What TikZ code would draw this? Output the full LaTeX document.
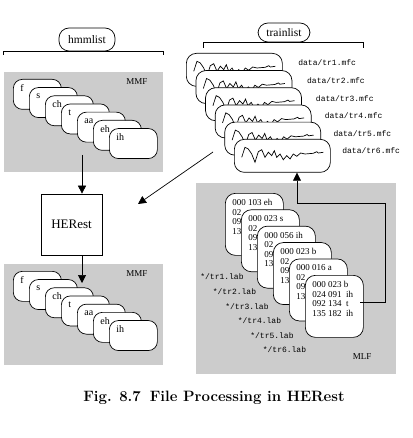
\documentclass[tikz,border=0pt]{standalone}
\usepackage{fontspec}
\newfontfamily\timesfont{Liberation Serif}
\newfontfamily\courfont{Liberation Mono}
\usetikzlibrary{arrows.meta, positioning}
\definecolor{panelgray}{gray}{0.8}
\tikzstyle{panel} = [rectangle, fill=panelgray, anchor=north west, inner sep=0pt]
\tikzstyle{panelname} = [font=\timesfont\fontsize{9}{10}\selectfont]
\tikzstyle{listbox} = [rectangle, draw, fill=white, rounded corners=10pt, inner sep=0pt, font=\timesfont\fontsize{11.5}{13}\selectfont]
\tikzstyle{hmmbox} = [rectangle, draw, fill=white, rounded corners=9pt, anchor=north west, minimum width=48pt, minimum height=30pt]
\tikzstyle{hmmname} = [anchor=west, inner sep=0pt, font=\timesfont\fontsize{10}{11}\selectfont]
\tikzstyle{wavebox} = [rectangle, draw, fill=white, rounded corners=10pt, anchor=north west, minimum width=96pt, minimum height=33pt]
\tikzstyle{labbox} = [rectangle, draw, fill=white, rounded corners=10pt, anchor=north west, minimum width=58pt, minimum height=62pt]
\tikzstyle{labtext} = [anchor=north west, inner sep=0pt, align=left, font=\timesfont\fontsize{9}{9.5}\selectfont]
\tikzstyle{filename} = [anchor=west, inner sep=0pt, font=\courfont\fontsize{8}{9}\selectfont]
\tikzstyle{arrow} = [-{Triangle[length=8pt, width=8pt]}]
\tikzset{wave/.pic={
  \draw (7.7,18.3) -- (11,8.3) -- (14.3,10) -- (17.7,15) -- (21,23.3) -- (24.3,12.7) -- (27.7,10.7)
    -- (31,18.3) -- (34.3,13.3) -- (37.7,16.7) -- (40.3,11.7) -- (42.7,18.3) -- (46,15) -- (49.3,20.7)
    -- (52.7,16.7) -- (56,20) -- (59.3,15) -- (62.7,17.3) -- (66.7,14) -- (71,15) -- (79.3,14.3)
    -- (82.7,12.7) -- (84.3,14) -- (89.3,13.3);
}}

\begin{document}
\begin{tikzpicture}[x=1pt, y=-1pt, line width=0.7pt]
    \useasboundingbox (0,0) rectangle (412,438);

    % hmm list and the two model sets
    \node (hmmlist) [listbox, minimum width=56pt, minimum height=23pt] at (87,39.5) {hmmlist};
    \draw (3,55) |- (hmmlist.south) -| (163,55);
    \node (mmfA) [panel, minimum width=159pt, minimum height=100pt] at (4,72) {};
    \node (mmfA-name) [panelname] at (137,82) {MMF};
    \foreach \n [count=\i from 0] in {f,s,ch,t,aa,eh,ih} {
        \node (mmfA-\i) [hmmbox] at (13+16*\i, 79+8.2*\i) {};
        \node [hmmname] at (20+16*\i, 88+8.2*\i) {\n};
    }
    \node (mmfB) [panel, minimum width=159pt, minimum height=101pt] at (4,264) {};
    \node (mmfB-name) [panelname] at (137,274) {MMF};
    \foreach \n [count=\i from 0] in {f,s,ch,t,aa,eh,ih} {
        \node (mmfB-\i) [hmmbox] at (13+16*\i, 271+8.2*\i) {};
        \node [hmmname] at (20+16*\i, 280+8.2*\i) {\n};
    }

    % the tool
    \node (herest) [rectangle, draw, minimum width=61pt, minimum height=61pt, font=\timesfont\fontsize{13}{15}\selectfont] at (71.5,224.5) {HERest};

    % training data
    \node (trainlist) [listbox, minimum width=52pt, minimum height=19pt] at (284,32.5) {trainlist};
    \draw (203,48) |- (trainlist.south) -| (363,48);
    \foreach \i in {1,...,6} {
        \node (wave-\i) [wavebox] at (176.4+9.6*\i, 35.8+17.2*\i) {};
        \pic at (wave-\i.north west) {wave};
        \node (mfc-\i) [filename] at (289.2+8.8*\i, 45.4+17.6*\i) {data/tr\i.mfc};
    }

    % label files
    \node (mlf) [panel, minimum width=200pt, minimum height=191pt] at (196,183) {};
    \node (mlf-name) [panelname] at (362,357) {MLF};
    \foreach \first [count=\i from 0] in {000 103 eh, 000 023 s, 000 056 ih, 000 023 b, 000 016 a} {
        \node (lab-\i) [labbox] at (225+16*\i, 193+16.4*\i) {};
        \node [labtext] at (232+16*\i, 199+16.4*\i) {\first\\02\\09\\13};
    }
    \node (lab-5) [labbox] at (305,275) {};
    \node (lab-5-text) [labtext] at (312,281) {000 023 b\\024 091\enspace ih\\092 134\enspace t\\135 182\enspace ih};
    \foreach \i in {1,...,6} {
        \node (labname-\i) [filename] at (187.5+12.5*\i, 262.4+14.6*\i) {*/tr\i.lab};
    }

    % arrows
    \coordinate (mmfA-out) at (82,155);
    \coordinate (mmfB-in) at (82,283);
    \coordinate (wave-out) at (213,152);
    \coordinate (herest-in) at (138,204);
    \coordinate (mlf-out) at (360,302);
    \coordinate (mlf-up) at (297,203);
    \draw [arrow] (mmfA-out) -- (mmfA-out |- herest.north);
    \draw [arrow] (herest.south -| mmfB-in) -- (mmfB-in);
    \draw [arrow] (wave-out) -- (herest-in);
    \draw [arrow] (mlf-out) -- ++(25,0) |- (mlf-up) -- (mlf-up |- wave-6.south);

    % caption
    \node (caption) at (214,398) {\bfseries\fontsize{15}{17}\selectfont Fig. 8.7\hspace{0.6em}File Processing in HERest};
\end{tikzpicture}
\end{document}
